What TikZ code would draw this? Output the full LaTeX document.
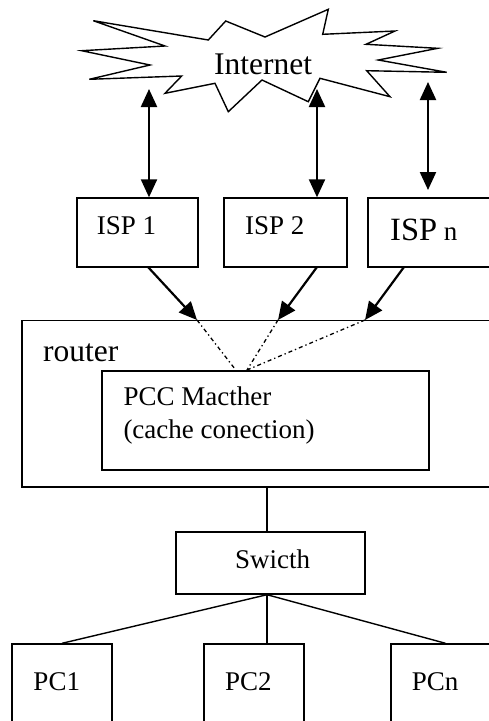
\documentclass[tikz,border=0pt]{standalone}
\usepackage{fontspec}
\setmainfont{Liberation Serif}
\usetikzlibrary{arrows.meta}
\begin{document}
\begin{tikzpicture}[x=1pt,y=-1pt,
  box/.style={draw,line width=1.4pt,rectangle,inner sep=0pt,minimum width=#1},
  lbl/.style={inner sep=0pt,anchor=base west,font=\fontsize{27}{32}\selectfont},
  dbl/.style={line width=2.2pt,{Triangle[length=18pt,width=16pt]}-{Triangle[length=18pt,width=16pt]}},
  sgl/.style={line width=2.2pt,-{Triangle[length=18pt,width=16pt]}},
  dd/.style={line width=1.3pt,dash pattern=on 4pt off 3pt on 1.3pt off 3pt},
  wire/.style={line width=1.4pt}]
\useasboundingbox (0,0) rectangle (489,721);
\clip (0,0) rectangle (489,721);
% cloud
\draw[line width=1.4pt,line join=miter] (93.3,20.7) -- (208.3,40) -- (225.7,21) -- (265,37) -- (328.3,9.3) -- (322.7,34.3)
  -- (395,31) -- (366,44.3) -- (437.7,48.3) -- (378.3,60) -- (446.7,72.3) -- (366.7,70.7) -- (390,96.7)
  -- (320,78.3) -- (308.3,101.7) -- (262,80) -- (228.3,111.7) -- (215,83.3) -- (165,93.3) -- (181.7,76)
  -- (89.3,79.3) -- (150,65) -- (81.7,50.7) -- (165,46) -- cycle;
\node[lbl,font=\fontsize{31.5}{38}\selectfont] (inet) at (214,74) {Internet};
% boxes
\node[box=121pt,minimum height=69pt] (isp1) at (137.5,232.5) {};
\node[box=123pt,minimum height=69pt] (isp2) at (285.5,232.5) {};
\node[box=132pt,minimum height=69pt] (ispn) at (434,232.5) {};
\node[box=478pt,minimum height=166.5pt] (router) at (261,403.75) {};
\node[box=327pt,minimum height=99pt] (pcc) at (265.5,420.5) {};
\node[box=189pt,minimum height=62pt] (sw) at (270.5,563) {};
\node[box=100pt,minimum height=116pt] (pc1) at (62,702) {};
\node[box=100pt,minimum height=116pt] (pc2) at (254,702) {};
\node[box=109pt,minimum height=116pt] (pcn) at (445.5,702) {};
% labels
\node[lbl] (t1) at (96.7,234) {ISP 1};
\node[lbl] (t2) at (245,234) {ISP 2};
\node[lbl] (tn) at (390,240) {{\fontsize{32.5}{38}\selectfont ISP} n};
\node[lbl,font=\fontsize{31.5}{38}\selectfont] (tr) at (43,361.7) {router};
\node[lbl] (tp1) at (123.3,405) {PCC Macther};
\node[lbl] (tp2) at (123.3,438.3) {(cache conection)};
\node[lbl] (ts) at (235,568.3) {Swicth};
\node[lbl] (tpc1) at (33.3,690) {PC1};
\node[lbl] (tpc2) at (225,690) {PC2};
\node[lbl] (tpcn) at (411.7,690) {PCn};
% internet <-> ISP
\coordinate (c1) at (149,89);
\coordinate (c2) at (317,89);
\coordinate (c3) at (428,82);
\coordinate (c3b) at (428,190);
\draw[dbl] (c1) -- (c1 |- isp1.north);
\draw[dbl] (c2) -- (c2 |- isp2.north);
\draw[dbl] (c3) -- (c3b);
% ISP -> router
\coordinate (s1) at (148,267);
\coordinate (s2) at (317,267);
\coordinate (s3) at (404,267);
\coordinate (e1) at (197,320);
\coordinate (e2) at (278,320);
\coordinate (e3) at (365,320);
\draw[sgl] (s1) -- (e1);
\draw[sgl] (s2) -- (e2);
\draw[sgl] (s3) -- (e3);
\coordinate (m1) at (235,369);
\coordinate (m2) at (247,370);
\draw[dd] (e1) -- (m1);
\draw[dd] (e2) -- (m2);
\draw[dd] (e3) -- (m2);
% router -> switch -> PCs
\coordinate (swx) at (267,563);
\draw[wire] (swx |- router.south) -- (swx |- sw.north);
\draw[wire] (swx |- sw.south) -- (pc1.north);
\draw[wire] (swx |- sw.south) -- (swx |- pc2.north);
\draw[wire] (swx |- sw.south) -- (pcn.north);
\end{tikzpicture}
\end{document}
